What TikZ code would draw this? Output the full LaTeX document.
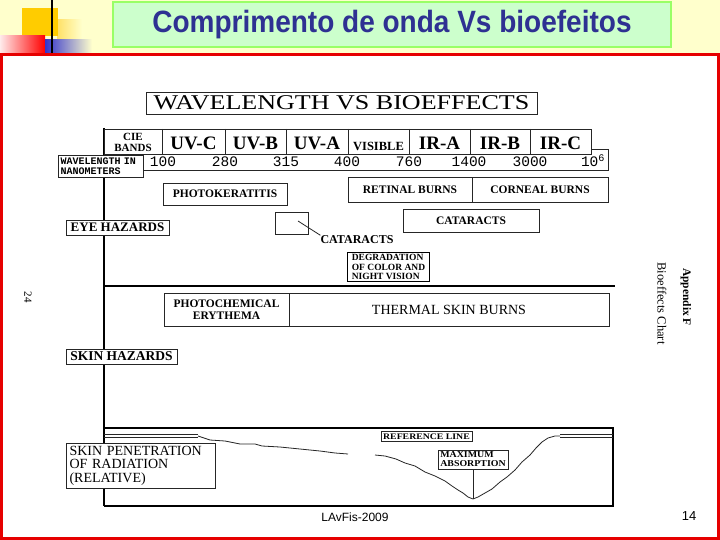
\documentclass[tikz,border=0pt]{standalone}
\usepackage{fontspec}
\setmainfont{Liberation Serif}
\newfontfamily\arialf{Liberation Sans}
\newfontfamily\monof{Liberation Mono}
\newcommand{\myfs}[1]{\fontsize{#1}{#1}\selectfont}
\definecolor{bgy}{RGB}{255,255,204}
\definecolor{titleblue}{RGB}{46,49,146}
\definecolor{greenfill}{RGB}{204,255,204}
\definecolor{greenline}{RGB}{153,255,102}
\definecolor{gold}{RGB}{255,204,0}
\definecolor{slidered}{RGB}{230,0,0}
\definecolor{decoblue}{RGB}{51,51,204}
\begin{document}
\begin{tikzpicture}[x=1pt,y=-1pt,
  cb/.style={draw=black!85, line width=0.8pt, fill=white, inner sep=0pt},
  band/.style={font=\bfseries\myfs{19}, anchor=base, inner sep=0pt},
  num/.style={font=\monof\myfs{14.5}, anchor=base, inner sep=0pt},
  lbl/.style={font=\bfseries\myfs{11.5}},
  thick2/.style={line width=1.9pt, black},
  thinl/.style={line width=0.8pt, black!85}]
\useasboundingbox (0,0) rectangle (720,540);
\fill[white] (0,0) rectangle (720,540);
\fill[bgy] (0,0) rectangle (720,54);
% decoration top-left
\shade[left color=gold!60, right color=bgy] (57,20) rectangle (82,50);
\fill[gold] (22,8) rectangle (57.5,36);
\shade[left color=red!8, right color=red] (0,36) rectangle (45,53);
\shade[left color=decoblue, right color=bgy] (45,40) rectangle (92,53);
\draw[line width=2pt, black] (51.5,0) -- (51.5,53);
% title
\node[draw=greenline, fill=greenfill, line width=2pt, minimum width=558, minimum height=45, inner sep=0pt,
      text=titleblue, font=\arialf\bfseries\myfs{28}] (ttl) at (392,25) {\scalebox{1}[1.1]{Comprimento de onda Vs bioefeitos}};
% red frame
\draw[slidered, line width=3pt] (1.5,54.5) rectangle (718.5,538.5);

% main structural lines
\draw[thick2] (104,128) -- (104,506);
\draw[thick2] (104,286) -- (615,286);
% CIE table
\draw[thinl] (104,129) rectangle (591,154);
\foreach \x in {162,225,286,348,409,470,530} \draw[thinl] (\x,129) -- (\x,154);
\draw[thinl] (143,170) -- (608,170) -- (608,149) -- (591,149);

\node[draw=black!85, line width=0.8pt, minimum width=391, minimum height=22, inner sep=0pt, font=\myfs{21}] (wtitle) at (341.5,103)
  {\scalebox{1.24}[1]{WAVELENGTH VS BIOEFFECTS}};

\node[font=\bfseries\myfs{11}, align=center, inner sep=0pt] (cie) at (133,142) {CIE\\BANDS};
\node[band] (uvc) at (193.5,150) {UV-C};
\node[band] (uvb) at (255.5,150) {UV-B};
\node[band] (uva) at (317,150) {UV-A};
\node[font=\bfseries\myfs{12.5}, anchor=base, inner sep=0pt] (vis) at (378.5,151) {VISIBLE};
\node[band] (ira) at (439.5,150) {IR-A};
\node[band] (irb) at (500,150) {IR-B};
\node[band] (irc) at (560.5,150) {IR-C};

\node[num] (n100) at (163,167) {100};
\node[num] (n280) at (225,167) {280};
\node[num] (n315) at (286,167) {315};
\node[num] (n400) at (347,167) {400};
\node[num] (n760) at (409,167) {760};
\node[num] (n1400) at (469,167) {1400};
\node[num] (n3000) at (530,167) {3000};
\node[num] (n106) at (593,167) {10\textsuperscript{6}};

\node[cb, minimum width=85, minimum height=22, font=\monof\bfseries\myfs{10}, text width=80, align=left] (wl) at (100.5,166)
  {\fontsize{10}{10}\selectfont WAVELENGTH IN\\NANOMETERS};

% eye hazards
\node[cb, minimum width=103, minimum height=15, font=\bfseries\myfs{13}] (eye) at (117.5,227.5) {EYE HAZARDS};
\node[cb, minimum width=124, minimum height=22, lbl] (pk) at (225,194) {PHOTOKERATITIS};
\node[cb, minimum width=124, minimum height=25, lbl] (rb) at (410,189.5) {RETINAL BURNS};
\node[cb, minimum width=136, minimum height=25, lbl] (cbn) at (540,189.5) {CORNEAL BURNS};
\node[cb, minimum width=136, minimum height=23, lbl] (cat) at (471,220.5) {CATARACTS};
\node[cb, minimum width=33, minimum height=22] (sq) at (291.5,223) {};
\node[font=\bfseries\myfs{12}, inner sep=0pt] (catl) at (357,239.5) {CATARACTS};
\coordinate (sqin) at (298,221);
\draw[thinl] (sqin) -- (catl.north west);
\node[draw=black, line width=1pt, fill=white, minimum width=82, minimum height=29, inner sep=1.5pt,
      font=\bfseries\myfs{9.5}, align=left, anchor=north west] (deg) at (347,252)
  {\fontsize{9.5}{9}\selectfont DEGRADATION\\OF COLOR AND\\NIGHT VISION};

% skin hazards
\node[cb, minimum width=125, minimum height=33, font=\bfseries\myfs{11.5}, align=center] (pce) at (226.5,309.5)
  {\fontsize{11.5}{10.5}\selectfont PHOTOCHEMICAL\\ERYTHEMA};
\node[cb, minimum width=320, minimum height=33, font=\myfs{14}] (tsb) at (449,309.5) {THERMAL SKIN BURNS};
\node[cb, minimum width=111, minimum height=15, font=\bfseries\myfs{13.5}] (skin) at (121.5,356.5) {SKIN HAZARDS};

% skin penetration
\draw[line width=1.2pt, black] (104,428) -- (613,428) -- (613,506) -- (104,506);
\draw[thinl] (104,434.5) -- (198,434.5) (104,437.5) -- (198,437.5);
\draw[thinl] (560,434.5) -- (613,434.5) (560,437.5) -- (613,437.5);
\draw[thinl] (198,436) -- (210,440) -- (225,441) -- (240,444) -- (255,444) -- (262,446) -- (280,447)
  -- (300,449) -- (320,451) -- (335,453) -- (348,454);
\draw[thinl] (375,455) -- (385,456) -- (396,459) -- (405,463) -- (415,466) -- (425,472) -- (435,476)
  -- (445,481) -- (452,486) -- (458,490) -- (463,493) -- (468,497) -- (473,499) -- (478,497)
  -- (485,493) -- (492,489) -- (500,482) -- (507,477) -- (515,470) -- (522,462) -- (530,455)
  -- (536,448) -- (542,442) -- (548,438) -- (555,436) -- (560,436);
\node[cb, minimum width=149, minimum height=40, font=\myfs{14}, text width=142, align=left, inner sep=3.5pt] (pen) at (140.5,466)
  {\fontsize{14}{12.5}\selectfont SKIN PENETRATION\\OF RADIATION\\(RELATIVE)};
\node[cb, minimum width=91, minimum height=9.5, font=\bfseries\myfs{8.5}] (ref) at (426.5,436.5)
  {\scalebox{1.15}[1]{REFERENCE LINE}};
\node[cb, minimum width=70, minimum height=19, font=\bfseries\myfs{9}, align=left, inner sep=1pt] (max) at (473,459.5)
  {\fontsize{9}{8.5}\selectfont\scalebox{1.1}[1]{MAXIMUM}\\\scalebox{1.1}[1]{ABSORPTION}};
\coordinate (minpt) at (473,499);
\draw[thinl] (max.south) -- (minpt);

% side texts
\node[rotate=-90, font=\bfseries\myfs{11.5}, inner sep=0pt] (appf) at (686,297) {Appendix F};
\node[rotate=-90, font=\myfs{12.5}, inner sep=0pt] (bchart) at (662,303.5) {Bioeffects Chart};
\node[rotate=-90, font=\myfs{11}, inner sep=0pt] (pg24) at (28,297) {24};
\node[font=\arialf\myfs{12}, inner sep=0pt] (foot) at (355,517) {LAvFis-2009};
\node[font=\arialf\myfs{13}, inner sep=0pt] (pgn) at (689,516) {14};
\end{tikzpicture}
\end{document}
